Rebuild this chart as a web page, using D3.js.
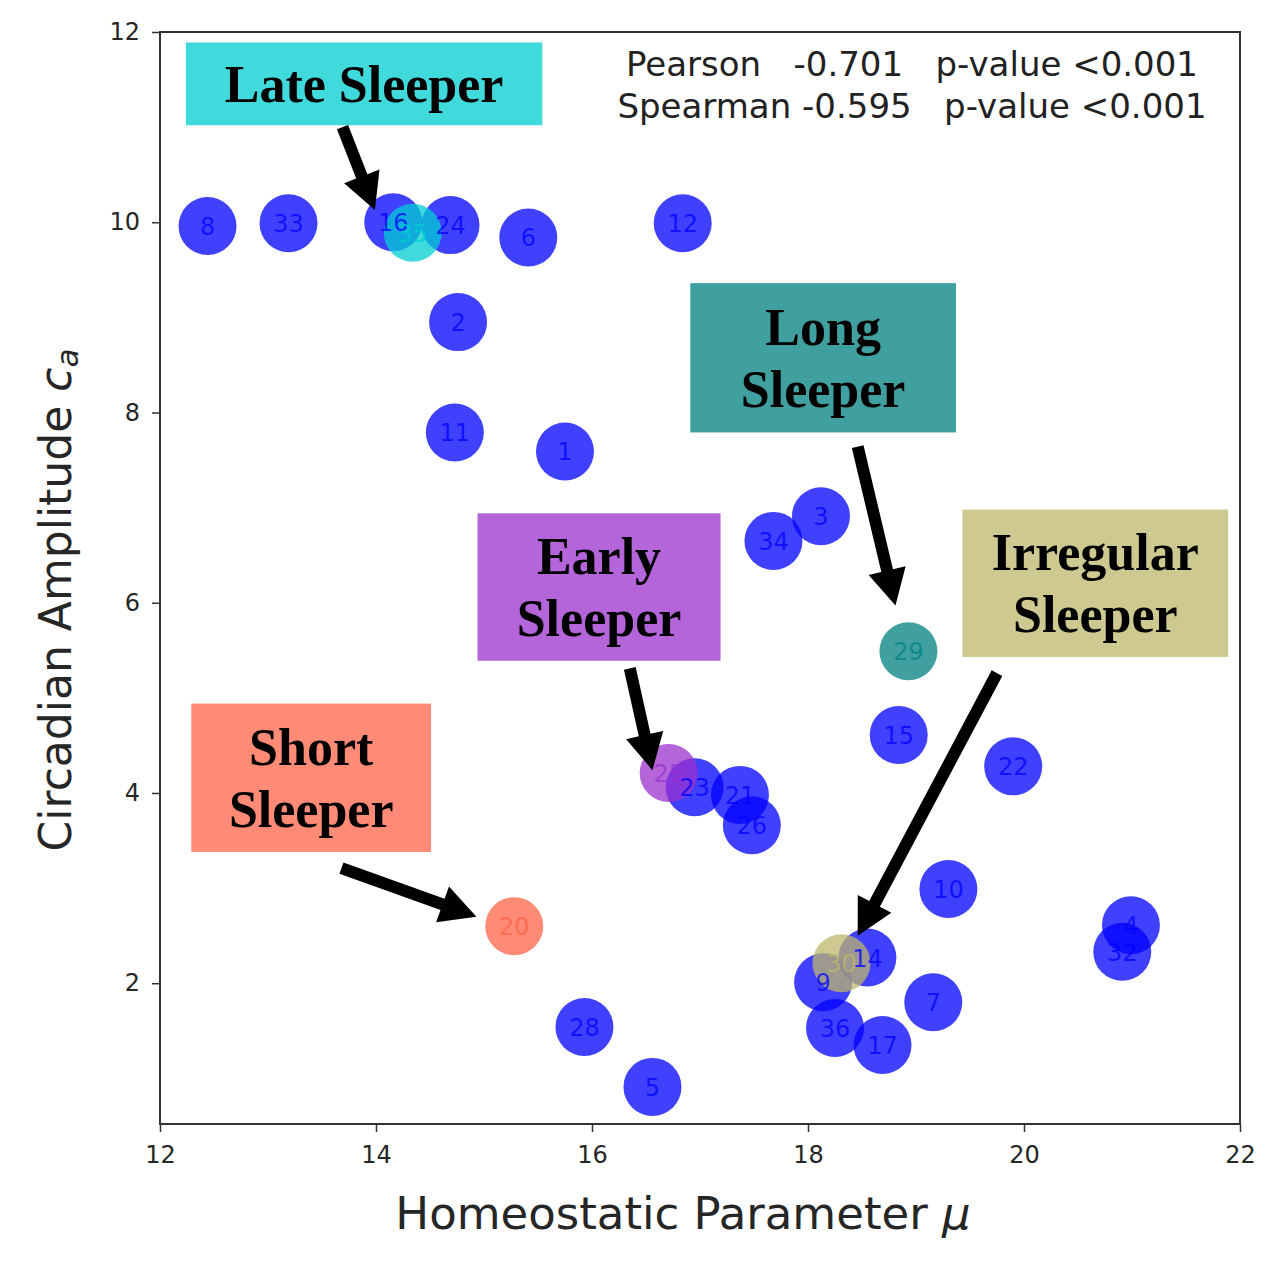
<!DOCTYPE html>
<html><head><meta charset="utf-8">
<script src="https://cdn.jsdelivr.net/npm/d3@7"></script>
<style>body{margin:0;background:#fff}</style>
</head><body><svg id="c" width="1273" height="1261"></svg>
<script>
// ---- data ----
const ids    = [8, 33, 16, 24, 6, 12, 2, 11, 1, 34, 3, 15, 22, 23, 21, 26, 10, 4, 32, 14, 9, 7, 36, 17, 28, 5, 35, 29, 25, 30, 20];
const mu     = [12.44, 13.19, 14.16, 14.69, 15.41, 16.84, 14.76, 14.73, 15.75, 17.68, 18.12, 18.84, 19.90, 16.95, 17.37, 17.48, 19.30, 20.99, 20.91, 18.55, 18.14, 19.16, 18.25, 18.69, 15.93, 16.56, 14.34, 18.93, 16.71, 18.31, 15.28];
const ca     = [9.96, 9.99, 10.00, 9.97, 9.84, 9.99, 8.95, 7.79, 7.59, 6.65, 6.91, 4.61, 4.28, 4.06, 3.98, 3.66, 2.99, 2.61, 2.33, 2.27, 2.01, 1.80, 1.53, 1.35, 1.54, 0.91, 9.89, 5.49, 4.21, 2.21, 2.60];
const groups = ["n","n","n","n","n","n","n","n","n","n","n","n","n","n","n","n","n","n","n","n","n","n","n","n","n","n","late","long","early","irregular","short"];
const xTicks = [12, 14, 16, 18, 20, 22];
const yTicks = [2, 4, 6, 8, 10, 12];
const statsLines = ["Pearson   -0.701   p-value <0.001", "Spearman -0.595   p-value <0.001"];
const annoGroups = ["late", "long", "early", "irregular", "short"];
const annoTexts  = [["Late Sleeper"], ["Long", "Sleeper"], ["Early", "Sleeper"], ["Irregular", "Sleeper"], ["Short", "Sleeper"]];

// ---- styles / layout ----
const baseColor = {n: "#0000ff", late: "#00ced1", long: "#008080", early: "#9932cc", irregular: "#bdb76b", short: "#ff6347"};
const boxColor  = {late: "#40dadd", long: "#40a0a0", early: "#b365d9", irregular: "#cec990", short: "#ff8a75"};
// annotation layout in data units: box [x0,x1,yTop,yBottom], arrow tail, arrow tip
const annoLayout = {
  late:      {box: [12.24, 15.54, 11.89, 11.02], tail: [13.69, 11.00], tip: [13.99, 10.13]},
  long:      {box: [16.91, 19.37, 9.36, 7.79],   tail: [18.46, 7.64],  tip: [18.81, 5.97]},
  early:     {box: [14.94, 17.19, 6.94, 5.39],   tail: [16.35, 5.31],  tip: [16.56, 4.24]},
  irregular: {box: [19.43, 21.89, 6.98, 5.43],   tail: [19.75, 5.26],  tip: [18.46, 2.50]},
  short:     {box: [12.29, 14.51, 4.94, 3.38],   tail: [13.68, 3.21],  tip: [14.93, 2.70]}
};

const svg = d3.select("#c");
const L = 160, R = 1240, T = 32, B = 1124;
const x = d3.scaleLinear().domain([12, 22]).range([L, R]);
const y = d3.scaleLinear().domain([0.52, 12]).range([B, T]);

const pts = ids.map((id, i) => ({id, mu: mu[i], ca: ca[i], g: groups[i]}));

// points
const gp = svg.append("g");
gp.selectAll("circle").data(pts).join("circle")
  .attr("cx", d => x(d.mu)).attr("cy", d => y(d.ca)).attr("r", 29)
  .attr("fill", d => baseColor[d.g]).attr("fill-opacity", 0.75);
gp.selectAll("text").data(pts).join("text")
  .attr("x", d => x(d.mu)).attr("y", d => y(d.ca) + 9)
  .attr("text-anchor", "middle")
  .attr("font-family", "DejaVu Sans").attr("font-size", 24)
  .attr("fill", d => baseColor[d.g]).attr("fill-opacity", 0.75)
  .text(d => d.id);

// frame
svg.append("rect").attr("x", L).attr("y", T).attr("width", R - L).attr("height", B - T)
  .attr("fill", "none").attr("stroke", "#333").attr("stroke-width", 2);

// axes
const xAxis = svg.append("g").attr("transform", `translate(0,${B})`)
  .call(d3.axisBottom(x).tickValues(xTicks).tickSize(8).tickPadding(14).tickFormat(d3.format("d")));
const yAxis = svg.append("g").attr("transform", `translate(${L},0)`)
  .call(d3.axisLeft(y).tickValues(yTicks).tickSize(8).tickPadding(12).tickFormat(d3.format("d")));
[xAxis, yAxis].forEach(a => {
  a.select(".domain").remove();
  a.selectAll(".tick line").attr("stroke", "#333").attr("stroke-width", 1.5);
  a.selectAll(".tick text").attr("font-family", "DejaVu Sans").attr("font-size", 24).attr("fill", "#262626");
});

// axis labels
const xl = svg.append("text").attr("x", 683).attr("y", 1229).attr("text-anchor", "middle")
  .attr("font-family", "DejaVu Sans").attr("font-size", 45).attr("fill", "#262626");
xl.append("tspan").text("Homeostatic Parameter ");
xl.append("tspan").attr("font-style", "italic").text("μ");

const yl = svg.append("text").attr("transform", "translate(71,600) rotate(-90)").attr("text-anchor", "middle")
  .attr("font-family", "DejaVu Sans").attr("font-size", 44).attr("fill", "#262626");
yl.append("tspan").text("Circadian Amplitude ");
yl.append("tspan").attr("font-style", "italic").text("c");
yl.append("tspan").attr("font-style", "italic").attr("font-size", 31).attr("dy", 7).text("a");

// stats text
svg.append("g").selectAll("text").data(statsLines).join("text")
  .attr("x", 912).attr("y", (d, i) => 76 + i * 42).attr("text-anchor", "middle")
  .attr("font-family", "DejaVu Sans").attr("font-size", 34).attr("fill", "#222")
  .style("white-space", "pre").text(d => d);

// annotations
annoGroups.forEach((g, i) => {
  const a = annoLayout[g];
  const x0 = x(a.box[0]), x1 = x(a.box[1]), y0 = y(a.box[2]), y1 = y(a.box[3]);
  svg.append("rect").attr("x", x0).attr("y", y0).attr("width", x1 - x0).attr("height", y1 - y0)
    .attr("fill", boxColor[g]);
  const lines = annoTexts[i];
  const lh = 62;
  const cy = (y0 + y1) / 2;
  lines.forEach((t, j) => {
    svg.append("text").attr("x", (x0 + x1) / 2)
      .attr("y", cy + (j - (lines.length - 1) / 2) * lh + 18)
      .attr("text-anchor", "middle")
      .attr("font-family", "Liberation Serif").attr("font-weight", "bold").attr("font-size", 52)
      .attr("fill", "#000").text(t);
  });
  // arrow
  const tx = x(a.tail[0]), ty = y(a.tail[1]), hx = x(a.tip[0]), hy = y(a.tip[1]);
  const dx = hx - tx, dy = hy - ty, len = Math.hypot(dx, dy);
  const ux = dx / len, uy = dy / len, nx = -uy, ny = ux;
  const sw = 6, hl = 36, hw = 19;
  const bx = hx - ux * hl, by = hy - uy * hl;
  const p = [
    [tx + nx * sw, ty + ny * sw], [bx + nx * sw, by + ny * sw], [bx + nx * hw, by + ny * hw],
    [hx, hy], [bx - nx * hw, by - ny * hw], [bx - nx * sw, by - ny * sw], [tx - nx * sw, ty - ny * sw]
  ];
  svg.append("path").attr("d", "M" + p.map(q => q.join(",")).join("L") + "Z").attr("fill", "#000");
});
</script></body></html>
